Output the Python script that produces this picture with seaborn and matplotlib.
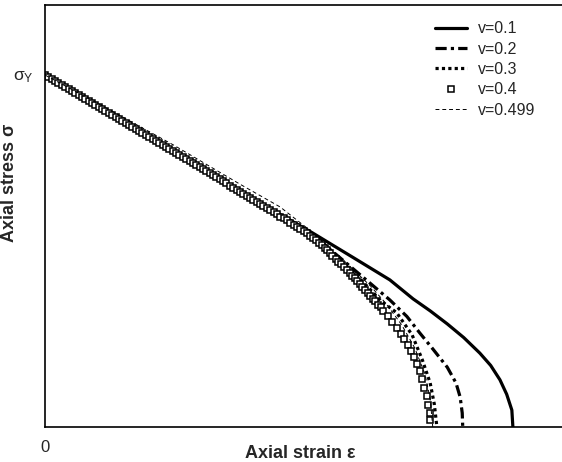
import matplotlib
matplotlib.use("Agg")
import matplotlib.pyplot as plt
import seaborn as sns

sns.set_style("white")
plt.rcParams["font.family"] = ["Liberation Sans", "DejaVu Sans"]
plt.rcParams["mathtext.fontset"] = "custom"
plt.rcParams["mathtext.rm"] = "Liberation Sans"
plt.rcParams["mathtext.it"] = "Liberation Sans"

# ---- data (strain arbitrary units, stress normalised by sigma_Y) ----
x_v01 = [0, 0.12, 0.25, 0.377, 0.518, 0.60, 0.667, 0.712, 0.745, 0.778, 0.81, 0.841, 0.862, 0.880, 0.893, 0.903, 0.905]
y_v01 = [1, 0.897, 0.782, 0.669, 0.551, 0.478, 0.418, 0.364, 0.330, 0.293, 0.254, 0.210, 0.175, 0.134, 0.093, 0.048, 0.0]

x_v02 = [0, 0.12, 0.25, 0.377, 0.507, 0.56, 0.61, 0.667, 0.70, 0.725, 0.75, 0.778, 0.795, 0.803, 0.807, 0.808]
y_v02 = [1, 0.897, 0.782, 0.669, 0.555, 0.494, 0.432, 0.361, 0.314, 0.267, 0.222, 0.170, 0.125, 0.085, 0.04, 0.0]

x_v03 = [0, 0.12, 0.25, 0.377, 0.507, 0.56, 0.61, 0.65, 0.68, 0.71, 0.73, 0.745, 0.753, 0.758]
y_v03 = [1, 0.897, 0.782, 0.669, 0.553, 0.488, 0.420, 0.358, 0.325, 0.262, 0.190, 0.125, 0.065, 0.0]

x_v04 = [0.000, 0.0065, 0.013, 0.0195, 0.026, 0.0325, 0.039, 0.0455, 0.052, 0.0585,
         0.065, 0.0715, 0.078, 0.0845, 0.091, 0.0975, 0.104, 0.1105, 0.117, 0.1235,
         0.130, 0.1365, 0.143, 0.1495, 0.156, 0.1625, 0.169, 0.1755, 0.182, 0.1885,
         0.195, 0.2015, 0.208, 0.2145, 0.221, 0.2275, 0.234, 0.2405, 0.247, 0.2535,
         0.260, 0.2665, 0.273, 0.2795, 0.286, 0.2925, 0.299, 0.3055, 0.312, 0.3185,
         0.325, 0.3315, 0.338, 0.3445, 0.351, 0.3575, 0.364, 0.3705, 0.377, 0.3835,
         0.390, 0.3965, 0.403, 0.4095, 0.416, 0.4225, 0.429, 0.4355, 0.442, 0.4485,
         0.455, 0.4615, 0.468, 0.4745, 0.481, 0.4875, 0.494, 0.5005, 0.507, 0.513,
         0.519, 0.525, 0.530, 0.536, 0.541, 0.546, 0.551, 0.556, 0.562, 0.567,
         0.573, 0.578, 0.584, 0.589, 0.594, 0.599, 0.604, 0.609, 0.614, 0.619,
         0.624, 0.629, 0.634, 0.639, 0.644, 0.649, 0.654, 0.663, 0.672, 0.680,
         0.688, 0.695, 0.702, 0.708, 0.714, 0.720, 0.725, 0.730, 0.734, 0.738,
         0.741, 0.744, 0.745]
y_v04 = [1.000, 0.994, 0.989, 0.983, 0.978, 0.972, 0.966, 0.961, 0.955, 0.950,
         0.944, 0.938, 0.933, 0.927, 0.921, 0.916, 0.910, 0.904, 0.899, 0.893,
         0.887, 0.882, 0.876, 0.870, 0.865, 0.859, 0.853, 0.848, 0.842, 0.836,
         0.830, 0.825, 0.819, 0.813, 0.808, 0.802, 0.796, 0.790, 0.785, 0.779,
         0.773, 0.767, 0.761, 0.756, 0.750, 0.744, 0.738, 0.733, 0.727, 0.721,
         0.715, 0.709, 0.704, 0.698, 0.692, 0.686, 0.680, 0.674, 0.669, 0.663,
         0.657, 0.651, 0.645, 0.639, 0.634, 0.628, 0.622, 0.616, 0.610, 0.604,
         0.598, 0.593, 0.587, 0.581, 0.575, 0.569, 0.563, 0.557, 0.551, 0.544,
         0.537, 0.530, 0.523, 0.516, 0.509, 0.502, 0.494, 0.486, 0.478, 0.470,
         0.462, 0.454, 0.446, 0.438, 0.430, 0.422, 0.414, 0.406, 0.398, 0.390,
         0.381, 0.373, 0.365, 0.357, 0.348, 0.340, 0.331, 0.315, 0.298, 0.282,
         0.265, 0.249, 0.232, 0.215, 0.198, 0.178, 0.158, 0.136, 0.112, 0.088,
         0.063, 0.040, 0.020]

x_v0499 = [0, 0.12, 0.25, 0.377, 0.455, 0.52, 0.58, 0.63, 0.66, 0.69, 0.715, 0.735, 0.745, 0.75]
y_v0499 = [1, 0.905, 0.800, 0.690, 0.625, 0.550, 0.470, 0.400, 0.350, 0.290, 0.225, 0.150, 0.080, 0.0]

labels = ["v=0.1", "v=0.2", "v=0.3", "v=0.4", "v=0.499"]

fig = plt.figure(figsize=(5.62, 4.62), dpi=100)
ax = fig.add_axes([45 / 562, 35 / 462, 517 / 562, 422 / 462])

sns.lineplot(x=x_v01, y=y_v01, ax=ax, color="black", lw=2.3, sort=False,
             estimator=None, label=labels[0])
sns.lineplot(x=x_v02, y=y_v02, ax=ax, color="black", lw=2.3, sort=False,
             estimator=None, label=labels[1],
             linestyle=(0, (3.5, 1.3, 1.0, 1.3)))
sns.lineplot(x=x_v03, y=y_v03, ax=ax, color="black", lw=2.3, sort=False,
             estimator=None, label=labels[2], linestyle=(0, (1.0, 1.0)))
ax.plot(x_v04, y_v04, ls="none", marker="s", ms=4.6, mfc="white",
        mec="black", mew=1.1, label=labels[3])
sns.lineplot(x=x_v0499, y=y_v0499, ax=ax, color="black", lw=0.7, sort=False,
             estimator=None, label=labels[4], linestyle=(0, (4, 3)))

ax.set_xlim(0, 1.0)
ax.set_ylim(0, 1.199)

for side in ["left", "top", "bottom"]:
    ax.spines[side].set_visible(True)
    ax.spines[side].set_color("black")
    ax.spines[side].set_linewidth(1.2)
ax.spines["right"].set_visible(False)

ax.set_xticks([0])
ax.set_xticklabels(["0"], fontsize=12)
ax.set_yticks([1])
ax.set_yticklabels([r"σ$_\mathregular{Y}$"], fontsize=12.5)
ax.tick_params(axis="x", length=0, pad=9)
ax.tick_params(axis="y", length=0, pad=8)

ax.set_xlabel("Axial strain ε", fontsize=13, fontweight="bold")
ax.set_ylabel("Axial stress σ", fontsize=13, fontweight="bold")
ax.xaxis.set_label_coords(0.493, -0.043)
ax.yaxis.set_label_coords(-0.052, 0.578)

leg = ax.legend(loc="upper left", bbox_to_anchor=(0.754, 0.961), frameon=False,
                fontsize=11.5, handlelength=2.0, handletextpad=0.7,
                labelspacing=0.33, borderpad=0, borderaxespad=0)

fig.savefig("out.png", dpi=100)
